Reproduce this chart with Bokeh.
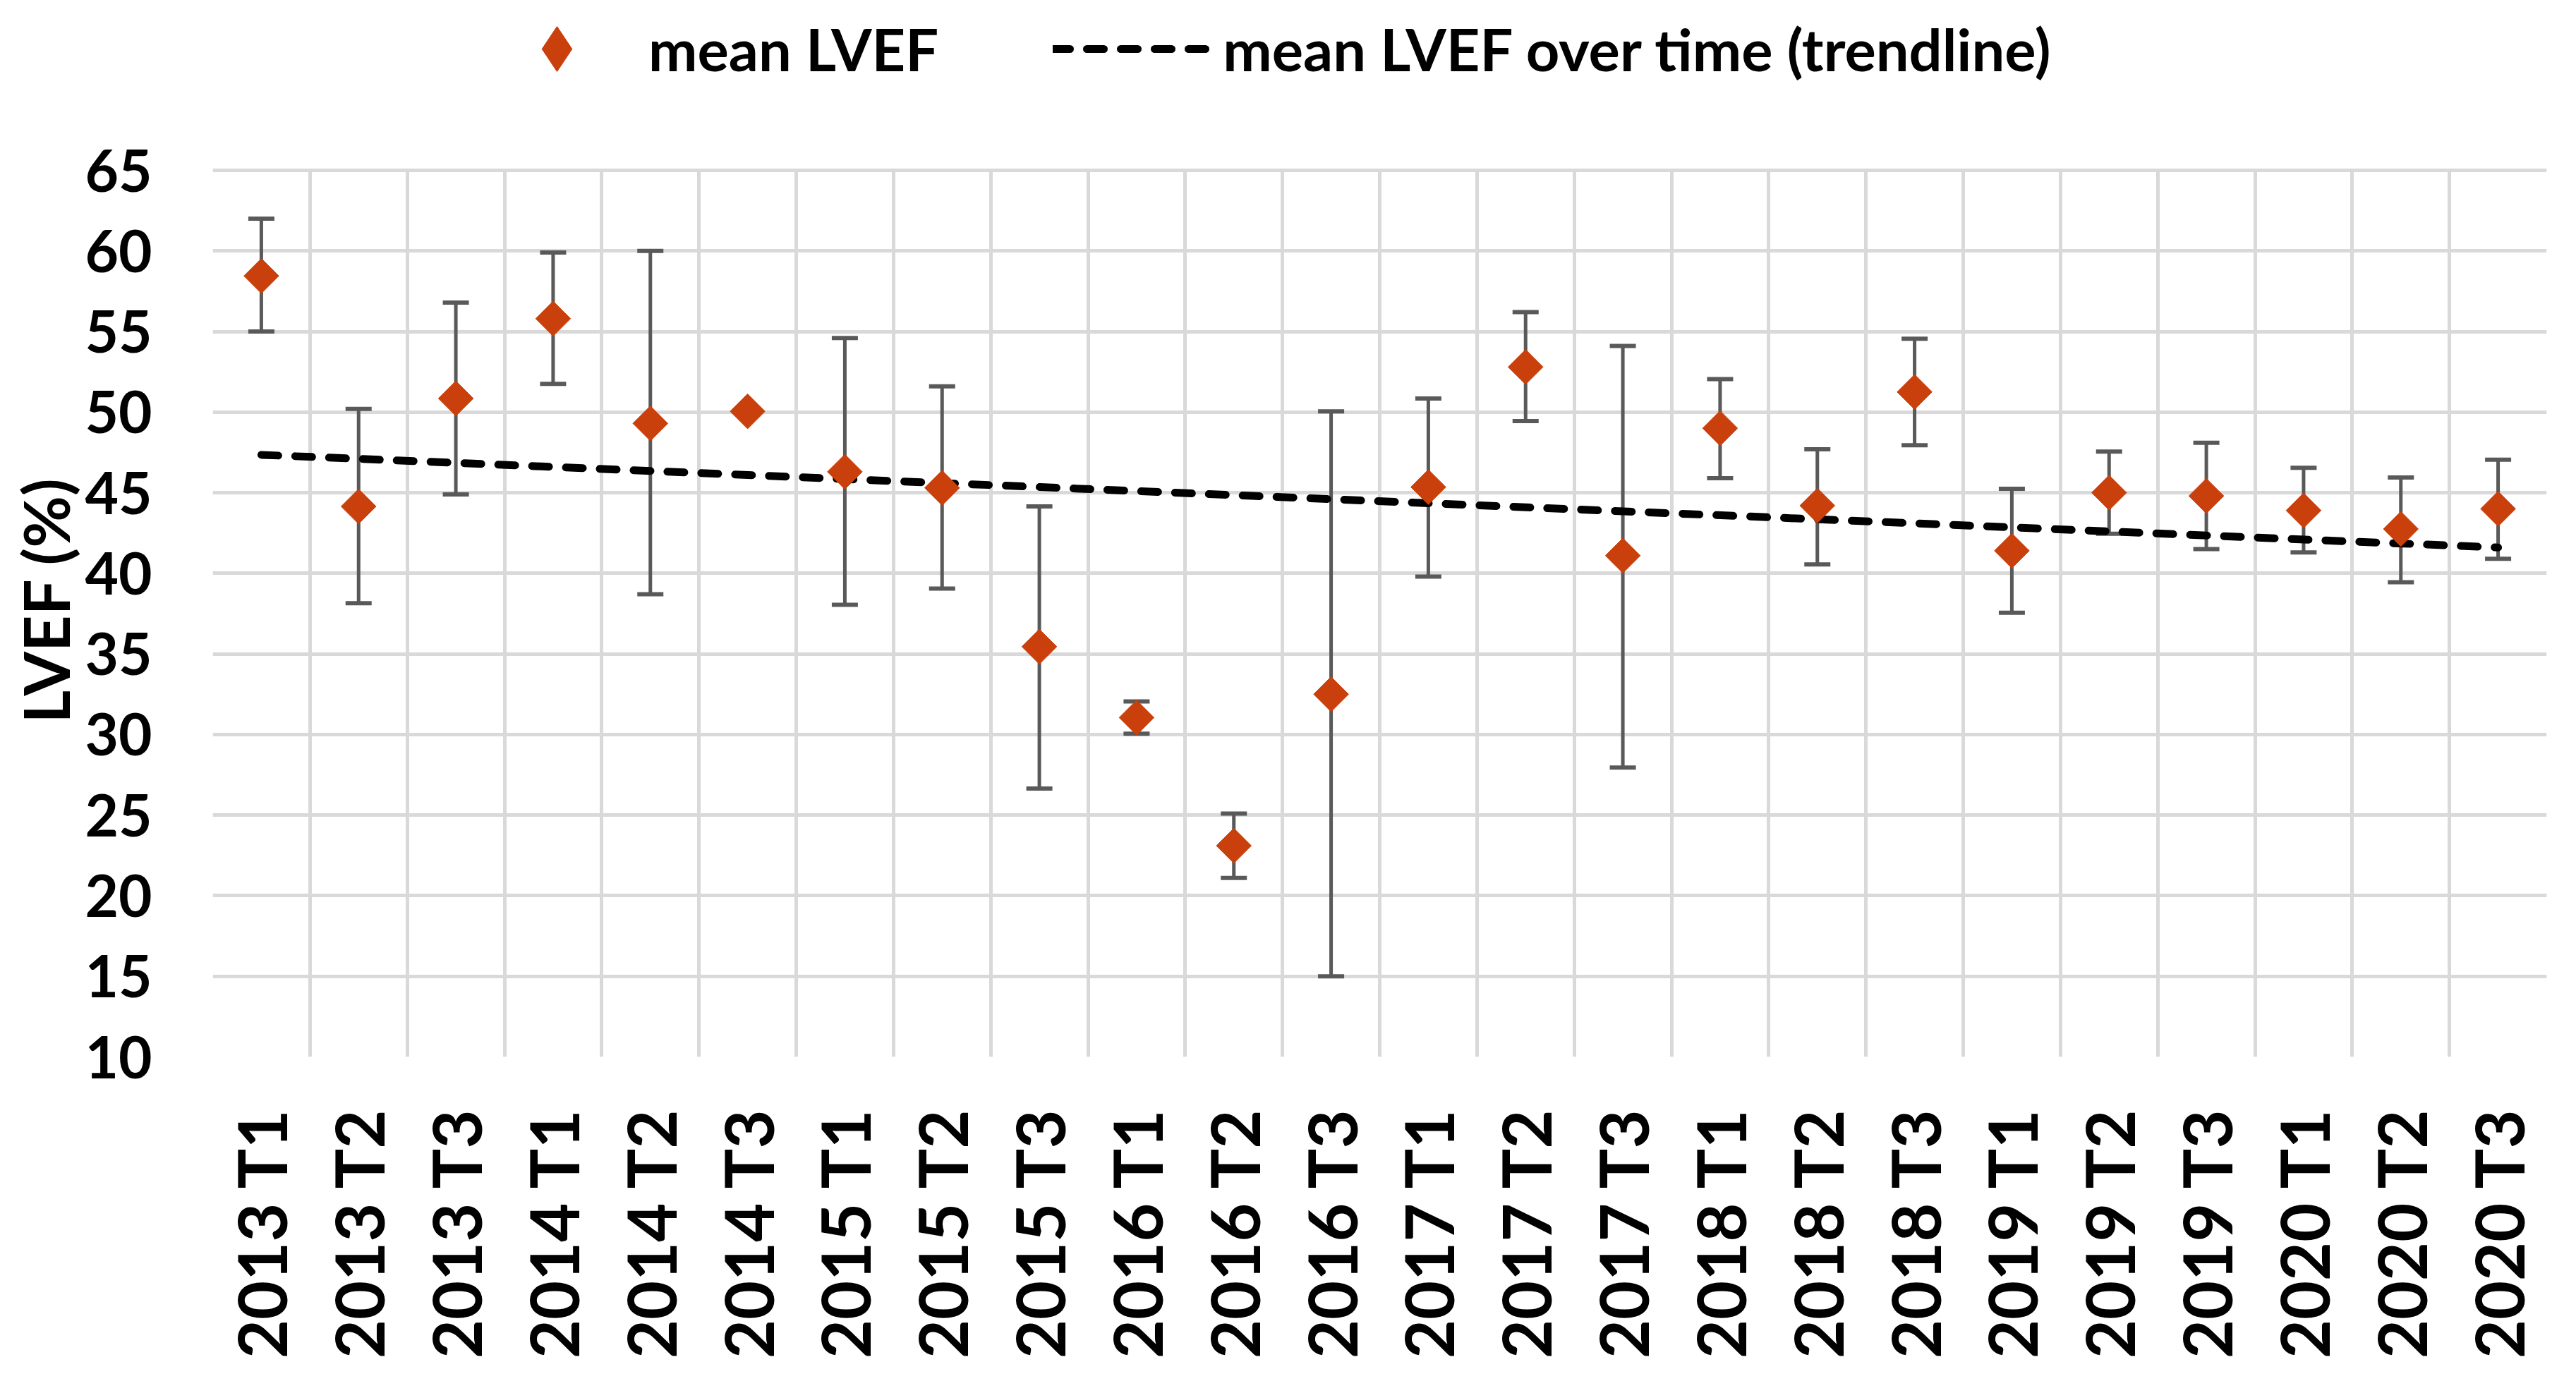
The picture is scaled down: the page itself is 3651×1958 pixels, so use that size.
import math
from bokeh.plotting import figure
from bokeh.models import (Range1d, FixedTicker, Whisker, TeeHead, ColumnDataSource,
                          Legend, LegendItem, Grid, BoxAnnotation, Title)
from bokeh.embed import file_html
from bokeh.resources import INLINE

# ---- data ----
categories = ["2013 T1", "2013 T2", "2013 T3", "2014 T1", "2014 T2", "2014 T3",
              "2015 T1", "2015 T2", "2015 T3", "2016 T1", "2016 T2", "2016 T3",
              "2017 T1", "2017 T2", "2017 T3", "2018 T1", "2018 T2", "2018 T3",
              "2019 T1", "2019 T2", "2019 T3", "2020 T1", "2020 T2", "2020 T3"]
mean_lvef = [58.45, 44.15, 50.85, 55.8, 49.3, 50.05, 46.3, 45.3, 35.45, 31.05, 23.1, 32.5,
             45.35, 52.8, 41.1, 49.0, 44.2, 51.25, 41.4, 45.0, 44.8, 43.9, 42.75, 44.0]
upper_lvef = [62.0, 50.2, 56.8, 59.9, 60.0, 50.05, 54.6, 51.6, 44.15, 32.05, 25.1, 50.05,
              50.85, 56.2, 54.1, 52.05, 47.7, 54.55, 45.25, 47.55, 48.1, 46.55, 45.95, 47.05]
lower_lvef = [55.0, 38.15, 44.9, 51.75, 38.7, 50.05, 38.05, 39.05, 26.65, 30.05, 21.1, 15.0,
              39.8, 49.45, 27.95, 45.9, 40.55, 47.95, 37.55, 42.45, 41.5, 41.3, 39.45, 40.9]
trend_start = 47.35   # trendline value at first period
trend_end = 41.6      # trendline value at last period
y_ticks = [10, 15, 20, 25, 30, 35, 40, 45, 50, 55, 60, 65]

ORANGE = "#C9400C"
GRID = "#D9D9D9"
ERR = "#595959"
FONT = "Lato"

# layout: plot frame reaches the top of the canvas so the legend can sit above the grid
FRAME_H = 1498          # px from canvas top to the bottom of the grid
GRID_TOP = 241          # px from canvas top to the 65 gridline
y_min, y_max = y_ticks[0], y_ticks[-1]
y_top = y_max + (y_max - y_min) * GRID_TOP / (FRAME_H - GRID_TOP)

n = len(categories)
xs = [i + 0.5 for i in range(n)]
src = ColumnDataSource(dict(x=xs, mean=mean_lvef, upper=upper_lvef, lower=lower_lvef))

p = figure(width=3635, height=1942, output_backend="svg", toolbar_location=None,
           x_range=Range1d(0, n), y_range=Range1d(y_min, y_top),
           min_border_left=301, min_border_right=26, min_border_top=0,
           min_border_bottom=1942 - FRAME_H)
p.outline_line_color = None
p.background_fill_color = "white"

# grids
p.ygrid.ticker = FixedTicker(ticks=y_ticks)
p.xgrid.ticker = FixedTicker(ticks=list(range(n + 1)))
for g in (p.xgrid, p.ygrid):
    g.grid_line_color = GRID
    g.grid_line_width = 5
if "cross_bounds" in Grid.properties():
    p.xgrid.cross_bounds = (y_min, y_max)
else:
    mask_px = 2.6 * (y_max - y_min) / (FRAME_H - GRID_TOP)
    p.add_layout(BoxAnnotation(bottom=y_max + mask_px, fill_color="white", fill_alpha=1,
                               line_color=None, level="glyph"))

# axes
p.yaxis.ticker = FixedTicker(ticks=y_ticks)
p.yaxis.bounds = (y_min, y_max)
p.xaxis.ticker = FixedTicker(ticks=xs)
p.xaxis.major_label_overrides = {x: c for x, c in zip(xs, categories)}
p.xaxis.major_label_orientation = math.pi / 2
for ax in (p.xaxis, p.yaxis):
    ax.axis_line_color = None
    ax.major_tick_line_color = None
    ax.minor_tick_line_color = None
    ax.major_tick_out = 0
    ax.major_tick_in = 0
    ax.major_label_text_font = FONT
    ax.major_label_text_font_style = "bold"
    ax.major_label_text_color = "black"
p.yaxis.major_label_text_font_size = "82px"
p.xaxis.major_label_text_font_size = "95px"
p.xaxis.major_label_standoff = 72
p.yaxis.major_label_standoff = 86

# y-axis title, centred on the gridded part of the axis (not the whole frame)
y_title = Title(text="LVEF (%)", align="left", offset=473, standoff=0,
                text_font=FONT, text_font_style="bold", text_font_size="90px",
                text_color="black")
p.add_layout(y_title, "left")

# error bars
whisk = Whisker(source=src, base="x", upper="upper", lower="lower", dimension="height",
                line_color=ERR, line_width=5,
                upper_head=TeeHead(size=37, line_color=ERR, line_width=6),
                lower_head=TeeHead(size=37, line_color=ERR, line_width=6))
p.add_layout(whisk)

# trendline
r_tr = p.line(x=[xs[0], xs[-1]], y=[trend_start, trend_end], line_color="black",
              line_width=11, line_dash="24 24", line_cap="round")

# legend swatch renderer (diamond shape, hidden in the plot itself)
r_key = p.scatter(x=xs[:1], y=mean_lvef[:1], marker="diamond", size=35,
                  fill_color=ORANGE, line_color=ORANGE, visible=False)

# markers
r_sc = p.scatter(x="x", y="mean", source=src, marker="square", angle=math.pi / 4,
                 size=35, fill_color=ORANGE, line_color=ORANGE)

legend = Legend(items=[LegendItem(label="mean LVEF", renderers=[r_key]),
                       LegendItem(label="mean LVEF over time (trendline)", renderers=[r_tr])],
                orientation="horizontal", location=(377, 1349),
                glyph_width=222, glyph_height=160, label_standoff=19, spacing=162,
                padding=0, margin=0, border_line_color=None, background_fill_alpha=0,
                inactive_fill_alpha=0, click_policy="none",
                label_text_font=FONT, label_text_font_style="bold",
                label_text_font_size="83px", label_text_color="black")
p.add_layout(legend, "center")

open("out.html", "w").write(file_html(p, INLINE))
